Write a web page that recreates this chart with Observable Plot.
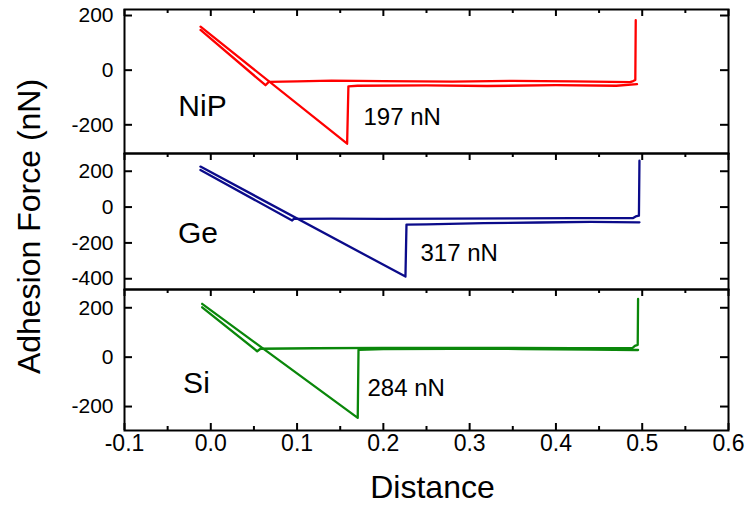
<!DOCTYPE html>
<html>
<head>
<meta charset="utf-8">
<script src="https://cdn.jsdelivr.net/npm/d3@7"></script>
<script src="https://cdn.jsdelivr.net/npm/@observablehq/plot@0.6"></script>
<style>
  html, body { margin: 0; padding: 0; background: #fff; }
  #wrap { position: relative; width: 745px; height: 509px; overflow: hidden; background: #fff; }
  #wrap svg { position: absolute; left: 0; top: 0; overflow: visible; }
</style>
</head>
<body>
<div id="wrap"></div>
<script>
// ---------- data ----------
const xTicks = [-0.1, 0.0, 0.1, 0.2, 0.3, 0.4, 0.5, 0.6];
const xTickLabels = ["-0.1", "0.0", "0.1", "0.2", "0.3", "0.4", "0.5", "0.6"];
const xMinorTicks = [-0.05, 0.05, 0.15, 0.25, 0.35, 0.45, 0.55];

// NiP (top)
const nipYTicks = [200, 0, -200];
const nipApproachX = [0.4925, 0.4920, 0.4895, 0.486, 0.42, 0.35, 0.28, 0.20, 0.14, 0.10, 0.0672, 0.0634, -0.0119];
const nipApproachY = [183, -36, -40, -44, -41, -39, -42, -40, -38, -41, -43, -55, 147];
const nipRetractX = [-0.0119, 0.158, 0.1595, 0.17, 0.25, 0.32, 0.40, 0.47, 0.494];
const nipRetractY = [159, -269, -59, -57, -56, -58, -55, -57, -51];

// Ge (middle)
const geYTicks = [200, 0, -200, -400];
const geApproachX = [0.4968, 0.4962, 0.4925, 0.489, 0.42, 0.35, 0.28, 0.20, 0.14, 0.0962, 0.0943, -0.012];
const geApproachY = [259, -48, -52, -62, -62, -63, -64, -66, -65, -66, -75, 207];
const geRetractX = [-0.012, 0.2256, 0.2268, 0.25, 0.316, 0.38, 0.44, 0.4968];
const geRetractY = [226, -388, -98, -97, -90, -86, -83, -85];

// Si (bottom)
const siYTicks = [200, 0, -200];
const siApproachX = [0.4952, 0.4948, 0.4915, 0.4884, 0.42, 0.35, 0.28, 0.20, 0.12, 0.0576, 0.0538, -0.010];
const siApproachY = [236, 50, 46, 36, 36, 38, 37, 38, 36, 34, 24, 202];
const siRetractX = [-0.010, 0.1703, 0.1712, 0.20, 0.28, 0.36, 0.44, 0.4952];
const siRetractY = [216, -246, 30, 33, 34, 33, 31, 29];

const panelNames = ["NiP", "Ge", "Si"];
const adhesionLabels = ["197 nN", "317 nN", "284 nN"];
const panelColors = ["#ff0000", "#0b0b8a", "#0a870a"];
const yAxisLabel = "Adhesion Force (nN)";
const xAxisLabel = "Distance";

// ---------- layout ----------
const W = 745, H = 509, ML = 124, MR = 17;
const FONT = "'Liberation Sans', Arial, Helvetica, sans-serif";

const toPts = (xs, ys) => xs.map((x, i) => ({x, y: ys[i]}));

const panels = [
  {top: 9, bottom: 153, yDomain: [-305, 222], yTicks: nipYTicks,
   approach: toPts(nipApproachX, nipApproachY), retract: toPts(nipRetractX, nipRetractY),
   name: panelNames[0], nameAt: [-0.0096, -134], adh: adhesionLabels[0], adhAt: [0.177, -172], color: panelColors[0]},
  {top: 153, bottom: 289, yDomain: [-460, 299], yTicks: geYTicks,
   approach: toPts(geApproachX, geApproachY), retract: toPts(geRetractX, geRetractY),
   name: panelNames[1], nameAt: [-0.0148, -145], adh: adhesionLabels[1], adhAt: [0.243, -257], color: panelColors[1]},
  {top: 289, bottom: 430, yDomain: [-297, 274], yTicks: siYTicks,
   approach: toPts(siApproachX, siApproachY), retract: toPts(siRetractX, siRetractY),
   name: panelNames[2], nameAt: [-0.0166, -105], adh: adhesionLabels[2], adhAt: [0.1816, -127], color: panelColors[2]}
];

const wrap = document.getElementById("wrap");
const innerW = W - ML - MR;

panels.forEach((p, idx) => {
  const innerH = p.bottom - p.top;
  const isBottom = idx === 2;
  const marks = [
    Plot.line(p.approach, {x: "x", y: "y", stroke: p.color, strokeWidth: 2.3, strokeLinejoin: "round"}),
    Plot.line(p.retract, {x: "x", y: "y", stroke: p.color, strokeWidth: 2.3, strokeLinejoin: "round"}),
    Plot.frame({stroke: "black", strokeWidth: 2}),
    // inward ticks
    Plot.tickY(p.yTicks, {y: d => d, insetRight: innerW - 8, stroke: "black", strokeWidth: 2}),
    Plot.tickY(p.yTicks, {y: d => d, insetLeft: innerW - 8, stroke: "black", strokeWidth: 2}),
    Plot.tickX(xTicks, {x: d => d, insetBottom: innerH - 7, stroke: "black", strokeWidth: 2}),
    Plot.tickX(xMinorTicks, {x: d => d, insetBottom: innerH - 4, stroke: "black", strokeWidth: 2}),
    Plot.axisY(p.yTicks, {tickSize: 0, tickPadding: 11, tickFormat: d => String(d), fontSize: 21, label: null}),
    Plot.text([p.name], {x: () => p.nameAt[0], y: () => p.nameAt[1], text: d => d, fontSize: 30, textAnchor: "middle", lineAnchor: "middle", fill: "black"}),
    Plot.text([p.adh], {x: () => p.adhAt[0], y: () => p.adhAt[1], text: d => d, fontSize: 24, textAnchor: "start", lineAnchor: "middle", fill: "black"})
  ];
  if (isBottom) {
    marks.push(
      Plot.tickX(xTicks, {x: d => d, insetTop: innerH - 7, stroke: "black", strokeWidth: 2}),
      Plot.tickX(xMinorTicks, {x: d => d, insetTop: innerH - 4, stroke: "black", strokeWidth: 2}),
      Plot.axisX(xTicks, {tickSize: 0, tickPadding: 4, fontSize: 23,
        tickFormat: d => xTickLabels[xTicks.indexOf(d)] ?? d.toFixed(1), label: null}),
      Plot.text([xAxisLabel], {frameAnchor: "bottom", dx: 6, dy: 57, text: d => d, fontSize: 32,
        textAnchor: "middle", lineAnchor: "middle", fill: "black"})
    );
  }
  if (idx === 1) {
    marks.push(
      Plot.text([yAxisLabel], {frameAnchor: "left", dx: -(ML - 29), dy: 5, rotate: -90, text: d => d, fontSize: 32,
        textAnchor: "middle", lineAnchor: "middle", fill: "black"})
    );
  }
  const chart = Plot.plot({
    width: W, height: H,
    marginLeft: ML, marginRight: MR, marginTop: p.top, marginBottom: H - p.bottom,
    x: {domain: [-0.1, 0.6], axis: null},
    y: {domain: p.yDomain, axis: null},
    style: {fontFamily: FONT, background: "transparent", color: "black", overflow: "visible"},
    marks
  });
  wrap.appendChild(chart);
});
</script>
</body>
</html>
